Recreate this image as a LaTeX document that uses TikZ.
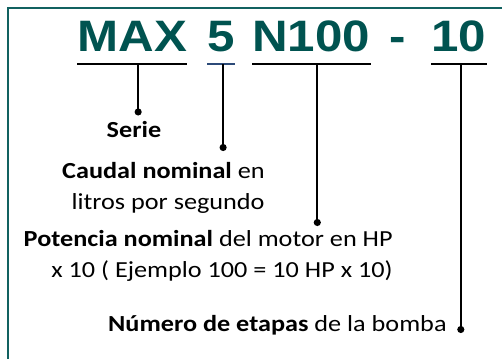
\documentclass[tikz,border=0pt]{standalone}
\usepackage{fontspec}
\usepackage{xcolor}
\usepackage{tikz}
\usetikzlibrary{arrows.meta}
\setmainfont{Carlito}
\newfontfamily\codefont[FakeStretch=1.12]{Liberation Sans}
\newfontfamily\lblfont[FakeStretch=1.14]{Carlito}
\definecolor{codeteal}{RGB}{0,83,80}
\definecolor{frameteal}{RGB}{17,97,96}
\definecolor{fiveblue}{RGB}{44,74,120}

\begin{document}
\begin{tikzpicture}[x=0.5pt, y=-0.5pt,
    code/.style={font=\codefont\bfseries\fontsize{22}{26}\selectfont, text=codeteal, inner xsep=0pt, anchor=base west},
    lbl/.style={font=\lblfont\fontsize{11.5}{15.5}\selectfont, inner sep=4pt},
    uline/.style={line width=1pt},
    stem/.style={line width=1pt, -{Circle[length=3.5pt]}}]
    \useasboundingbox (0,0) rectangle (502,358);
    \clip (0,0) rectangle (502,358);
    % Frame
    \draw[frameteal, line width=1.25pt] (8,8) rectangle (530,390);

    % Model code
    \node[code] (max) at (77,52) {MAX};
    \node[code] (five) at (207,52) {5};
    \node[code] (pow) at (252,52) {N100};
    \node[code] (dash) at (389,52) {-};
    \node[code] (ten) at (431,52) {10};

    % Underlines
    \foreach \part/\col in {max/black, five/fiveblue, pow/black, ten/black}
        \draw[uline, \col] ([yshift=-6pt]\part.base west) -- ([yshift=-6pt]\part.base east);

    % Stem tops
    \coordinate (maxstem) at ([xshift=3pt, yshift=-6pt]max.base);
    \coordinate (fivestem) at ([xshift=1pt, yshift=-6pt]five.base);
    \coordinate (powstem) at ([xshift=3pt, yshift=-6pt]pow.base);
    \coordinate (tenstem) at ([xshift=1pt, yshift=-6pt]ten.base);

    % Labels
    \node[lbl] (serie) at (134,130) {\bfseries Serie};
    \node[lbl, align=right, anchor=north east] (caudal) at (273,154) {\textbf{Caudal nominal} en\\litros por segundo};
    \node[lbl, align=right, anchor=north east] (potencia) at (401,222) {\textbf{Potencia nominal} del motor en HP\\x 10 ( Ejemplo 100 = 10 HP x 10)};
    \node[lbl, anchor=east] (etapas) at (455,325) {\textbf{Número de etapas} de la bomba};

    % Stems
    \draw[stem] (maxstem) -- ([yshift=-1pt]serie.north -| maxstem);
    \draw[stem] (fivestem) -- ([yshift=1.5pt]caudal.north -| fivestem);
    \draw[stem] (powstem) -- ([yshift=-2pt]potencia.north -| powstem);
    \draw[stem] (tenstem) -- ([yshift=-4pt]etapas.east -| tenstem);
\end{tikzpicture}
\end{document}
